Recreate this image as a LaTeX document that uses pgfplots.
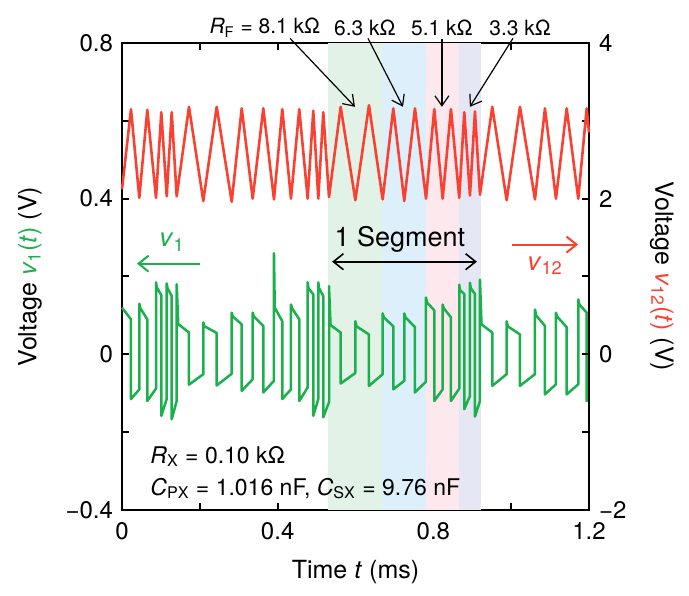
\documentclass[border=0pt]{standalone}
\usepackage{pgfplots}
\pgfplotsset{compat=1.18}
\usepackage{fontspec}
\setmainfont{TeX Gyre Heros}
\usetikzlibrary{arrows.meta}
\definecolor{myred}{RGB}{250,64,48}
\definecolor{mygreen}{RGB}{26,176,76}
\definecolor{shgreen}{RGB}{226,242,230}
\definecolor{shblue}{RGB}{221,239,250}
\definecolor{shpink}{RGB}{253,233,237}
\definecolor{shlav}{RGB}{229,231,245}
\pgfplotsset{
  myaxis/.style={
    scale only axis, width=233.5pt, height=233.5pt,
    xmin=0, xmax=1.2,
    axis line style={line width=1.1pt},
    tick style={line width=1pt, black},
    major tick length=3.5pt, minor tick length=3.5pt,
    tick align=inside,
    ticklabel style={font=\fontsize{12}{14}\selectfont},
    clip=false,
  }
}
\begin{document}
\begin{tikzpicture}
\begin{axis}[myaxis, name=main,
  ymin=-0.4, ymax=0.8,
  xtick={0,0.4,0.8,1.2}, xticklabels={0,0.4,0.8,1.2},
  minor xtick={0.2,0.6,1.0},
  ytick={-0.4,0,0.4,0.8}, yticklabels={−0.4,0,0.4,0.8},
  minor ytick={-0.2,0.2,0.6},
  ytick pos=left, xtick pos=both,
  xticklabel style={yshift=-2.5pt},
  yticklabel style={xshift=-1pt},
  xlabel={Time \textit{t} (ms)},
  ylabel={Voltage \textcolor{mygreen}{\textit{v}\textsubscript{1}(\textit{t})} (V)},
  every axis x label/.style={at={(axis description cs:0.5,-0.133)},anchor=center,font=\fontsize{12.5}{14}\selectfont},
  every axis y label/.style={at={(axis description cs:-0.197,0.5)},anchor=center,rotate=90,font=\fontsize{12.5}{14}\selectfont},
]
\addplot[fill=shgreen, draw=none] coordinates {(0.529,-0.4) (0.668,-0.4) (0.668,0.8) (0.529,0.8)} -- cycle;
\addplot[fill=shblue, draw=none] coordinates {(0.668,-0.4) (0.781,-0.4) (0.781,0.8) (0.668,0.8)} -- cycle;
\addplot[fill=shpink, draw=none] coordinates {(0.781,-0.4) (0.866,-0.4) (0.866,0.8) (0.781,0.8)} -- cycle;
\addplot[fill=shlav, draw=none] coordinates {(0.866,-0.4) (0.922,-0.4) (0.922,0.8) (0.866,0.8)} -- cycle;
\addplot[mygreen, line width=1.25pt, line join=round] table {
t v
0 0.12
0.0231 0.09
0.0231 -0.115
0.0445 -0.09
0.0445 0.13
0.0475 0.118
0.065 0.09
0.065 -0.12
0.0874 -0.088
0.0874 0.185
0.0894 0.172
0.101 0.152
0.101 -0.158
0.1149 -0.115
0.1149 0.182
0.1169 0.17
0.1277 0.15
0.1277 -0.167
0.1405 -0.12
0.1405 0.18
0.1445 0.078
0.1721 0.056
0.1721 -0.078
0.2089 -0.051
0.2089 0.082
0.2119 0.072
0.2433 0.055
0.2433 -0.08
0.2819 -0.05
0.2819 0.107
0.2849 0.097
0.3076 0.077
0.3076 -0.094
0.3358 -0.064
0.3358 0.107
0.3388 0.097
0.3631 0.073
0.3631 -0.098
0.3905 -0.068
0.3905 0.26
0.3925 0.12
0.4119 0.085
0.4119 -0.115
0.4342 -0.09
0.4342 0.128
0.4372 0.118
0.4555 0.09
0.4555 -0.12
0.4771 -0.085
0.4771 0.185
0.4791 0.17
0.4915 0.154
0.4915 -0.158
0.5044 -0.115
0.5044 0.185
0.5064 0.17
0.5172 0.15
0.5172 -0.162
0.5319 -0.123
0.5319 0.175
0.5359 0.075
0.5619 0.056
0.5619 -0.075
0.5996 -0.048
0.5996 0.085
0.6026 0.072
0.6346 0.051
0.6346 -0.081
0.6698 -0.051
0.6698 0.105
0.6728 0.095
0.6971 0.072
0.6971 -0.09
0.7253 -0.068
0.7253 0.105
0.7283 0.095
0.7528 0.07
0.7528 -0.098
0.7811 -0.07
0.7811 0.146
0.7841 0.133
0.8024 0.113
0.8024 -0.12
0.824 -0.09
0.824 0.128
0.827 0.118
0.8453 0.095
0.8453 -0.12
0.8666 -0.088
0.8666 0.179
0.8686 0.165
0.8795 0.155
0.8795 -0.141
0.8941 -0.107
0.8941 0.184
0.8961 0.17
0.907 0.155
0.907 -0.16
0.9198 -0.12
0.9198 0.192
0.9238 0.077
0.9514 0.056
0.9514 -0.081
0.9884 -0.051
0.9884 0.085
0.9914 0.072
1.0226 0.051
1.0226 -0.081
1.0612 -0.051
1.0612 0.115
1.0642 0.1
1.0868 0.073
1.0868 -0.103
1.1151 -0.077
1.1151 0.107
1.1181 0.097
1.1426 0.07
1.1426 -0.103
1.1724 -0.077
1.1724 0.141
1.1754 0.128
1.194 0.107
1.194 -0.12
1.2 -0.115
};
% annotations
\node[font=\fontsize{10.5}{12}\selectfont] at (axis cs:0.367,0.839) {\textit{R}\textsubscript{F} = 8.1 kΩ};
\node[font=\fontsize{10.5}{12}\selectfont] at (axis cs:0.624,0.839) {6.3 kΩ};
\node[font=\fontsize{10.5}{12}\selectfont] at (axis cs:0.822,0.839) {5.1 kΩ};
\node[font=\fontsize{10.5}{12}\selectfont] at (axis cs:1.023,0.839) {3.3 kΩ};
\draw[line width=0.6pt,-{Straight Barb[length=5pt,width=7pt]}] (axis cs:0.4317,0.812) -- (axis cs:0.5987,0.636);
\draw[line width=0.6pt,-{Straight Barb[length=5pt,width=7pt]}] (axis cs:0.632,0.812) -- (axis cs:0.722,0.636);
\draw[line width=0.6pt,-{Straight Barb[length=5pt,width=7pt]}] (axis cs:0.822,0.810) -- (axis cs:0.822,0.636);
\draw[line width=0.6pt,-{Straight Barb[length=5pt,width=7pt]}] (axis cs:1.0046,0.812) -- (axis cs:0.894,0.636);
\node[font=\fontsize{13.5}{15}\selectfont] at (axis cs:0.714,0.295) {1 Segment};
\draw[line width=0.8pt,{Straight Barb[length=5pt,width=8pt]}-{Straight Barb[length=5pt,width=8pt]}] (axis cs:0.540,0.238) -- (axis cs:0.912,0.238);
\node[mygreen,font=\fontsize{13}{15}\selectfont] at (axis cs:0.1285,0.288) {\textit{v}\textsubscript{1}};
\draw[mygreen,line width=1pt,-{Straight Barb[length=5pt,width=8pt]}] (axis cs:0.2004,0.233) -- (axis cs:0.0385,0.233);
\node[myred,font=\fontsize{13}{15}\selectfont] at (axis cs:1.087,0.228) {\textit{v}\textsubscript{12}};
\draw[myred,line width=1pt,-{Straight Barb[length=5pt,width=8pt]}] (axis cs:1.002,0.282) -- (axis cs:1.172,0.282);
\node[anchor=base west,font=\fontsize{11.5}{13}\selectfont] at (axis cs:0.055,-0.28) {\textit{R}\textsubscript{X} = 0.10 kΩ};
\node[anchor=base west,font=\fontsize{11.5}{13}\selectfont] at (axis cs:0.055,-0.362) {\textit{C}\textsubscript{PX} = 1.016 nF, \textit{C}\textsubscript{SX} = 9.76 nF};
\end{axis}
\begin{axis}[myaxis,
  ymin=-2, ymax=4,
  axis x line=none,
  axis y line*=right,
  ytick={-2,0,2,4}, yticklabels={−2,0,2,4},
  minor ytick={-1,1,3},
  yticklabel style={xshift=1.5pt},
  ylabel={Voltage \textcolor{myred}{\textit{v}\textsubscript{12}(\textit{t})} (V)},
  every axis y label/.style={at={(axis description cs:1.156,0.5)},anchor=center,rotate=-90,font=\fontsize{12.5}{14}\selectfont},
]
\addplot[myred, line width=1.3pt, line join=round] table {
t v
0 2.12
0.0231 3.15
0.0445 2.01
0.065 3.14
0.0874 2.01
0.101 3.11
0.1149 2.03
0.1277 3.11
0.1405 2.03
0.1721 3.18
0.2089 1.97
0.2433 3.18
0.2819 1.96
0.3076 3.16
0.3358 2.0
0.3631 3.16
0.3905 1.99
0.4119 3.15
0.4342 2.0
0.4555 3.15
0.4771 2.0
0.4915 3.13
0.5044 2.0
0.5172 3.11
0.5319 2.02
0.5619 3.18
0.5996 1.98
0.6346 3.2
0.6698 1.99
0.6971 3.16
0.7253 1.97
0.7528 3.16
0.7811 2.0
0.8024 3.15
0.824 2.0
0.8453 3.15
0.8666 2.01
0.8795 3.11
0.8941 2.04
0.907 3.12
0.9198 2.05
0.9514 3.18
0.9884 1.98
1.0226 3.18
1.0612 1.99
1.0868 3.16
1.1151 2.0
1.1426 3.16
1.1724 2.0
1.194 3.16
1.2 2.85
};
\end{axis}
\pgfresetboundingbox
\path ([shift={(-61pt,-43pt)}]main.south west) rectangle ([shift={(50pt,21.5pt)}]main.north east);
\end{tikzpicture}
\end{document}
